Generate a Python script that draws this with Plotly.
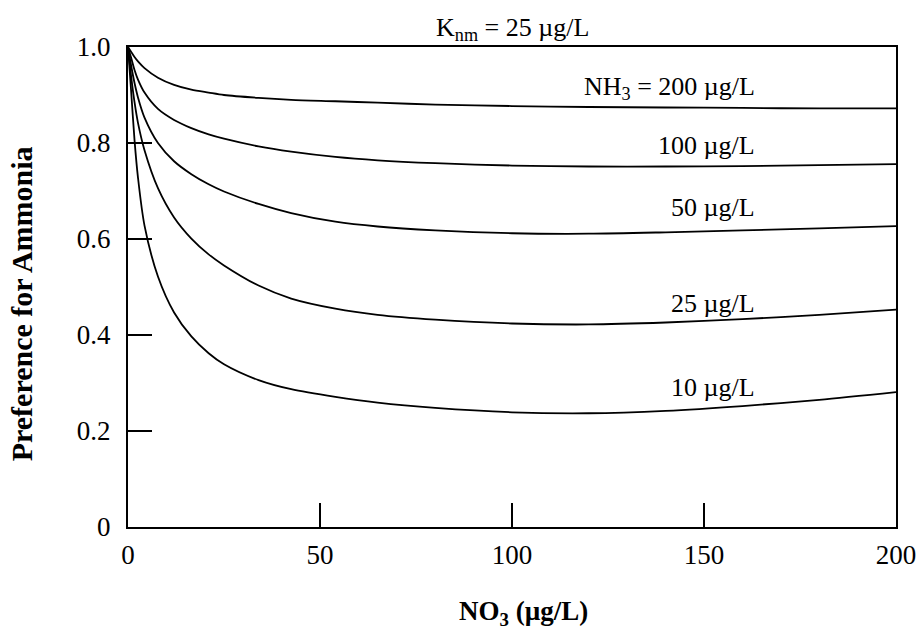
import plotly.graph_objects as go

# NO3 concentration (ug/L) sample points
no3 = [0, 0.8, 1.7, 2.6, 4.3, 7.8, 12, 16.5, 21, 25, 34, 42.5, 54, 65, 80, 100, 120, 140, 160, 180, 200]

# Preference for ammonia, one list per NH3 concentration
pref_200 = [1.0, 0.990, 0.979, 0.970, 0.956, 0.936, 0.921, 0.911, 0.905, 0.900, 0.894, 0.890, 0.887, 0.884, 0.880, 0.877, 0.875, 0.874, 0.873, 0.872, 0.872]
pref_100 = [1.0, 0.978, 0.952, 0.932, 0.905, 0.871, 0.848, 0.831, 0.818, 0.809, 0.793, 0.782, 0.771, 0.764, 0.758, 0.753, 0.751, 0.751, 0.752, 0.754, 0.756]
pref_50 = [1.0, 0.962, 0.925, 0.895, 0.853, 0.800, 0.762, 0.735, 0.714, 0.699, 0.673, 0.654, 0.636, 0.626, 0.618, 0.612, 0.611, 0.614, 0.618, 0.622, 0.627]
pref_25 = [1.0, 0.940, 0.885, 0.842, 0.785, 0.706, 0.645, 0.601, 0.568, 0.545, 0.503, 0.476, 0.455, 0.442, 0.432, 0.424, 0.422, 0.426, 0.433, 0.442, 0.453]
pref_10 = [1.0, 0.910, 0.806, 0.728, 0.628, 0.522, 0.447, 0.397, 0.362, 0.339, 0.306, 0.287, 0.271, 0.259, 0.248, 0.239, 0.237, 0.242, 0.252, 0.265, 0.281]

series = [pref_200, pref_100, pref_50, pref_25, pref_10]

# curve labels and their anchor positions (data units)
labels = ["NH<sub>3</sub> = 200 µg/L", "100 µg/L", "50 µg/L", "25 µg/L", "10 µg/L"]
label_y = [0.915, 0.794, 0.666, 0.465, 0.29]
label_x = 163.7

x_ticks = [0, 50, 100, 150, 200]
y_ticks = [0, 0.2, 0.4, 0.6, 0.8, 1.0]
y_ticktext = ["0", "0.2", "0.4", "0.6", "0.8", "1.0"]

FONT = "Liberation Serif, Times New Roman, serif"

fig = go.Figure()
for ys in series:
    fig.add_trace(go.Scatter(x=no3, y=ys, mode="lines",
                             line=dict(color="black", width=1.8, shape="spline", smoothing=0.8),
                             showlegend=False, hoverinfo="skip"))

for txt, ly in zip(labels, label_y):
    fig.add_annotation(x=label_x, y=ly, xref="x", yref="y", text=txt, showarrow=False,
                       xanchor="right", yanchor="middle",
                       font=dict(family=FONT, size=26, color="black"))

fig.add_annotation(x=0.5, y=1.037, xref="paper", yref="paper", text="K<sub>nm</sub> = 25 µg/L",
                   showarrow=False, xanchor="center", yanchor="middle",
                   font=dict(family=FONT, size=26, color="black"))

fig.add_annotation(x=0.515, y=-0.18, xref="paper", yref="paper",
                   text="<b>NO<sub>3</sub> (µg/L)</b>", showarrow=False,
                   xanchor="center", yanchor="middle",
                   font=dict(family=FONT, size=27, color="black"))

fig.add_annotation(x=-0.1393, y=0.464, xref="paper", yref="paper",
                   text="<b>Preference for Ammonia</b>", showarrow=False, textangle=-90,
                   xanchor="center", yanchor="middle",
                   font=dict(family=FONT, size=30, color="black"))

axis_common = dict(showline=True, linecolor="black", linewidth=2.2, mirror=True,
                   showgrid=False, zeroline=False, ticks="inside", tickcolor="black",
                   tickwidth=2, ticklen=24, automargin=False,
                   tickfont=dict(family=FONT, size=27, color="black"))

fig.update_xaxes(range=[0, 200], tickvals=x_ticks, ticktext=[str(v) for v in x_ticks],
                 ticklabelstandoff=2, **axis_common)
fig.update_yaxes(range=[0, 1], tickvals=y_ticks, ticktext=y_ticktext,
                 ticklabelstandoff=10, **axis_common)

fig.update_layout(width=918, height=629, margin=dict(l=128, r=22, t=47, b=102, autoexpand=False),
                  paper_bgcolor="white", plot_bgcolor="white",
                  font=dict(family=FONT, color="black"))

fig.write_html("out.html", config={"displayModeBar": False},
               post_script="document.body.style.margin='0';document.body.style.overflow='hidden';")
